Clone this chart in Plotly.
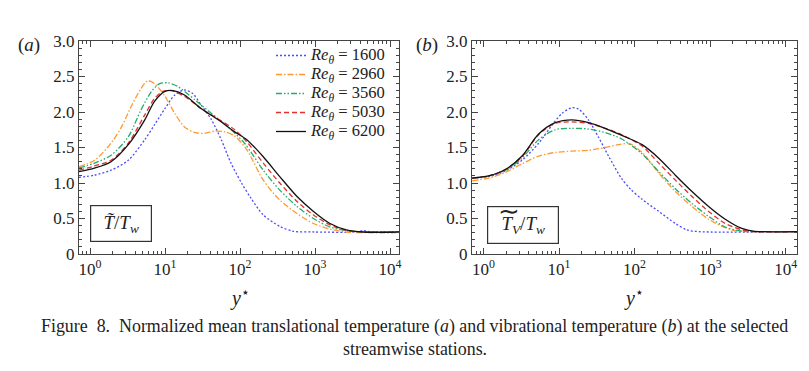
import numpy as np
import plotly.graph_objects as go

labels = ["1600", "2960", "3560", "5030", "6200"]
colors = ["#4b4bff", "#ff9a30", "#22ad6b", "#e2312f", "#111111"]
dashes = ["2px,2px", "6px,2px,1.5px,2px", "6px,2px,1.5px,2px,1.5px,2px", "5px,3px", "solid"]

# panel (a): translational temperature
a_1600_logy = [-0.15, 0.06, 0.28, 0.51, 0.73, 0.86, 1.0, 1.13, 1.26, 1.37, 1.48, 1.62, 1.75, 1.88, 2.02, 2.15, 2.31, 2.53, 2.71, 3.0, 3.55, 3.64, 3.75, 4.13]
a_1600_val = [1.08, 1.11, 1.18, 1.32, 1.61, 1.82, 2.05, 2.24, 2.31, 2.26, 2.10, 1.89, 1.61, 1.28, 1.0, 0.78, 0.55, 0.39, 0.32, 0.31, 0.31, 0.33, 0.31, 0.31]

a_2960_logy = [-0.15, 0.06, 0.28, 0.42, 0.55, 0.68, 0.77, 0.86, 1.0, 1.13, 1.26, 1.40, 1.53, 1.66, 1.80, 1.93, 2.09, 2.31, 2.53, 2.76, 2.98, 3.2, 3.42, 3.7, 4.13]
a_2960_val = [1.23, 1.32, 1.56, 1.79, 2.08, 2.33, 2.44, 2.40, 2.22, 1.98, 1.79, 1.71, 1.70, 1.73, 1.72, 1.66, 1.47, 1.04, 0.76, 0.57, 0.43, 0.35, 0.31, 0.30, 0.30]

a_3560_logy = [-0.15, 0.06, 0.28, 0.51, 0.68, 0.82, 0.93, 1.04, 1.17, 1.40, 1.62, 1.84, 2.06, 2.31, 2.53, 2.76, 2.98, 3.2, 3.42, 3.7, 4.13]
a_3560_val = [1.21, 1.28, 1.39, 1.65, 2.03, 2.29, 2.40, 2.41, 2.36, 2.17, 1.98, 1.79, 1.56, 1.18, 0.90, 0.67, 0.50, 0.38, 0.33, 0.31, 0.31]

a_5030_logy = [-0.15, 0.06, 0.28, 0.51, 0.73, 0.86, 0.97, 1.08, 1.26, 1.48, 1.71, 1.93, 2.09, 2.31, 2.53, 2.76, 2.98, 3.2, 3.42, 3.64, 4.13]
a_5030_val = [1.18, 1.24, 1.32, 1.56, 1.96, 2.19, 2.29, 2.30, 2.22, 2.05, 1.90, 1.75, 1.58, 1.28, 1.0, 0.74, 0.55, 0.41, 0.33, 0.31, 0.31]

a_6200_logy = [-0.15, 0.06, 0.28, 0.51, 0.73, 0.86, 1.0, 1.11, 1.26, 1.48, 1.71, 1.93, 2.09, 2.31, 2.53, 2.76, 2.98, 3.2, 3.42, 3.64, 4.13]
a_6200_val = [1.16, 1.21, 1.30, 1.54, 1.89, 2.15, 2.29, 2.30, 2.24, 2.05, 1.89, 1.72, 1.61, 1.37, 1.09, 0.81, 0.60, 0.43, 0.34, 0.31, 0.31]

# panel (b): vibrational temperature
b_1600_logy = [-0.15, 0.07, 0.29, 0.51, 0.73, 0.91, 1.04, 1.17, 1.26, 1.39, 1.52, 1.66, 1.83, 1.95, 2.1, 2.32, 2.54, 2.69, 2.85, 4.15]
b_1600_val = [1.07, 1.09, 1.17, 1.32, 1.56, 1.82, 1.98, 2.06, 2.04, 1.89, 1.65, 1.37, 1.06, 0.91, 0.77, 0.60, 0.43, 0.34, 0.315, 0.315]

b_2960_logy = [-0.15, 0.07, 0.29, 0.51, 0.73, 0.95, 1.17, 1.39, 1.61, 1.81, 1.94, 2.1, 2.32, 2.54, 2.76, 2.98, 3.2, 3.38, 3.7, 4.15]
b_2960_val = [1.03, 1.07, 1.15, 1.27, 1.38, 1.43, 1.45, 1.46, 1.50, 1.545, 1.55, 1.43, 1.14, 0.88, 0.67, 0.49, 0.37, 0.32, 0.315, 0.315]

b_3560_logy = [-0.15, 0.07, 0.29, 0.51, 0.73, 0.95, 1.17, 1.39, 1.61, 1.83, 2.1, 2.32, 2.54, 2.76, 2.98, 3.2, 3.42, 3.7, 4.15]
b_3560_val = [1.07, 1.10, 1.18, 1.35, 1.61, 1.75, 1.77, 1.76, 1.71, 1.62, 1.41, 1.16, 0.92, 0.71, 0.53, 0.38, 0.32, 0.315, 0.315]

b_5030_logy = [-0.15, 0.07, 0.29, 0.51, 0.73, 0.95, 1.17, 1.39, 1.61, 1.83, 2.1, 2.32, 2.54, 2.76, 2.98, 3.2, 3.42, 3.59, 4.15]
b_5030_val = [1.07, 1.10, 1.19, 1.37, 1.68, 1.84, 1.86, 1.84, 1.77, 1.68, 1.52, 1.28, 1.04, 0.81, 0.60, 0.43, 0.34, 0.315, 0.315]

b_6200_logy = [-0.15, 0.07, 0.29, 0.51, 0.73, 0.95, 1.17, 1.39, 1.61, 1.83, 2.1, 2.32, 2.54, 2.76, 2.98, 3.2, 3.42, 3.59, 4.15]
b_6200_val = [1.07, 1.10, 1.19, 1.38, 1.69, 1.85, 1.89, 1.85, 1.77, 1.67, 1.54, 1.35, 1.11, 0.88, 0.67, 0.49, 0.36, 0.32, 0.315]

x_tickvals = [1, 10, 100, 1000, 10000]
x_ticktext = ["10<sup>0</sup>", "10<sup>1</sup>", "10<sup>2</sup>", "10<sup>3</sup>", "10<sup>4</sup>"]
y_tickvals = [0, 0.5, 1.0, 1.5, 2.0, 2.5, 3.0]
y_ticktext = ["0", "0.5", "1.0", "1.5", "2.0", "2.5", "3.0"]

panel_a = [(a_1600_logy, a_1600_val), (a_2960_logy, a_2960_val), (a_3560_logy, a_3560_val),
           (a_5030_logy, a_5030_val), (a_6200_logy, a_6200_val)]
panel_b = [(b_1600_logy, b_1600_val), (b_2960_logy, b_2960_val), (b_3560_logy, b_3560_val),
           (b_5030_logy, b_5030_val), (b_6200_logy, b_6200_val)]

SERIF = "Liberation Serif"
AX = "#444444"

fig = go.Figure()
for i, (lx, v) in enumerate(panel_a):
    fig.add_trace(go.Scatter(
        x=10 ** np.array(lx), y=v, mode="lines", xaxis="x", yaxis="y",
        line=dict(color=colors[i], dash=dashes[i], width=1.3, shape="spline", smoothing=0.8),
        name='<span style="font-size:16.5px"><i>Re</i><sub><i>θ</i></sub> = ' + labels[i] + "</span>",
        showlegend=True, hoverinfo="skip"))
for i, (lx, v) in enumerate(panel_b):
    fig.add_trace(go.Scatter(
        x=10 ** np.array(lx), y=v, mode="lines", xaxis="x2", yaxis="y2",
        line=dict(color=colors[i], dash=dashes[i], width=1.3, shape="spline", smoothing=0.8),
        name="Re = " + labels[i], showlegend=False, hoverinfo="skip"))

W, H = 809, 371
def px(x):
    return x / W
def py(y):
    return (H - y) / H

xcommon = dict(type="log", showgrid=False, zeroline=False, showline=True, linecolor=AX, linewidth=1,
               mirror="ticks", ticks="inside", ticklen=6, tickcolor=AX, tickwidth=1, automargin=False,
               tickmode="array", tickvals=x_tickvals, ticktext=x_ticktext,
               tickfont=dict(family=SERIF, size=17, color="#222"),
               minor=dict(ticks="inside", ticklen=3, tickcolor=AX, tickmode="linear", tick0=0, dtick="D1", showgrid=False))
ycommon = dict(range=[0, 3.0], showgrid=False, zeroline=False, showline=True, linecolor=AX, linewidth=1,
               mirror="ticks", ticks="inside", ticklen=6, tickcolor=AX, tickwidth=1, automargin=False,
               tickmode="array", tickvals=y_tickvals, ticktext=y_ticktext,
               tickfont=dict(family=SERIF, size=17, color="#222"),
               minor=dict(ticks="inside", ticklen=3, tickcolor=AX, dtick=0.1, showgrid=False))

fig.update_layout(
    template="none",
    width=W, height=H, margin=dict(l=0, r=0, t=0, b=0, pad=0), autosize=False,
    paper_bgcolor="white", plot_bgcolor="white",
    font=dict(family=SERIF, color="#222"),
    xaxis=dict(xcommon, domain=[px(79), px(399)], range=[-0.147, 4.12], anchor="y"),
    yaxis=dict(ycommon, domain=[py(254), py(41)], anchor="x"),
    xaxis2=dict(xcommon, domain=[px(472), px(797)], range=[-0.152, 4.15], anchor="y2"),
    yaxis2=dict(ycommon, domain=[py(254), py(41)], anchor="x2"),
    legend=dict(x=px(391), xanchor="right", y=py(41), yanchor="top",
                font=dict(family=SERIF, size=12, color="#222"), bgcolor="rgba(0,0,0,0)",
                borderwidth=0, tracegroupgap=0, itemwidth=30),
    showlegend=True,
)

ann = []
def add_text(text, x, y, size, **kw):
    d = dict(text=text, x=px(x), y=py(y), xref="paper", yref="paper", showarrow=False,
             xanchor="center", yanchor="middle", font=dict(family=SERIF, size=size, color="#222"))
    d.update(kw)
    ann.append(d)

add_text("(<i>a</i>)", 29, 45, 19)
add_text("(<i>b</i>)", 427, 45, 19)
add_text("<i>y</i><sup>⋆</sup>", 240, 297, 20)
add_text("<i>y</i><sup>⋆</sup>", 634, 297, 20)
add_text("<i>T̃</i>/<i>T</i><sub><i>w</i></sub>", 121, 223.5, 19,
         bordercolor="#333", borderwidth=1.2, borderpad=1, width=58, height=33)
add_text("<i>T</i><sub><i>V</i></sub>/<i>T</i><sub><i>w</i></sub>", 523, 225, 19,
         bordercolor="#333", borderwidth=1.2, borderpad=1, width=68, height=34)
add_text("∼", 509, 211, 26)
add_text("Figure  8.  Normalized mean translational temperature (<i>a</i>) and vibrational temperature (<i>b</i>) at the selected",
         415, 326, 17.9)
add_text("streamwise stations.", 415, 349, 17.9)
fig.update_layout(annotations=ann)

fig.write_html(
    "out.html",
    config={"displayModeBar": False},
    post_script="document.body.style.margin='0';document.body.style.overflow='hidden';"
                "document.documentElement.style.overflow='hidden';",
)
